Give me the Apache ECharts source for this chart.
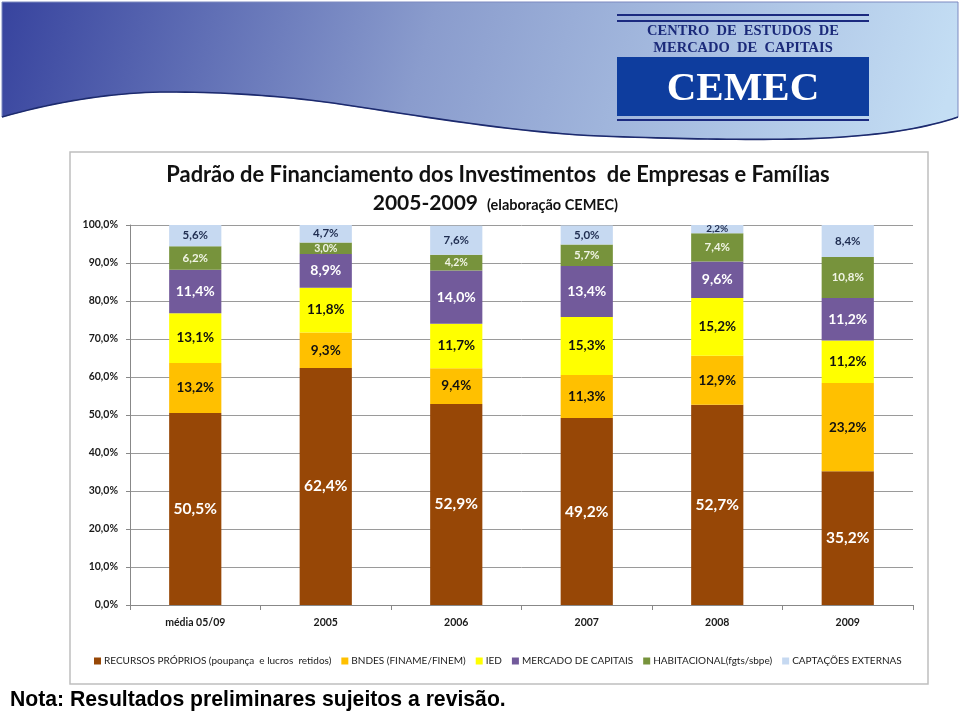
<!DOCTYPE html>
<html>
<head>
<meta charset="utf-8">
<script src="https://cdn.jsdelivr.net/npm/echarts@6/dist/echarts.min.js"></script>
<style>html,body{margin:0;padding:0;background:#fff}#c{width:960px;height:715px}</style>
</head>
<body>
<div id="c"></div>
<script>
const categories = ['média 05/09', '2005', '2006', '2007', '2008', '2009'];
const recursosProprios = [50.5, 62.4, 52.9, 49.2, 52.7, 35.2];
const bndes = [13.2, 9.3, 9.4, 11.3, 12.9, 23.2];
const ied = [13.1, 11.8, 11.7, 15.3, 15.2, 11.2];
const mercadoCapitais = [11.4, 8.9, 14.0, 13.4, 9.6, 11.2];
const habitacional = [6.2, 3.0, 4.2, 5.7, 7.4, 10.8];
const captacoesExternas = [5.6, 4.7, 7.6, 5.0, 2.2, 8.4];
const seriesNames = ['RECURSOS PRÓPRIOS (poupança  e lucros  retidos)', 'BNDES (FINAME/FINEM)', 'IED', 'MERCADO DE CAPITAIS', 'HABITACIONAL(fgts/sbpe)', 'CAPTAÇÕES EXTERNAS'];
const yTicks = [0, 10, 20, 30, 40, 50, 60, 70, 80, 90, 100];

const FONT = 'Lato';
const fmt = v => v.toFixed(1).replace('.', ',') + '%';

// decorative header swoosh (cubic bezier segments sampled to points)
function bezierPts(segs) {
  const pts = [];
  segs.forEach(s => {
    for (let i = 0; i <= 20; i++) {
      const t = i / 20, u = 1 - t;
      pts.push([
        u*u*u*s[0][0] + 3*u*u*t*s[1][0] + 3*u*t*t*s[2][0] + t*t*t*s[3][0],
        u*u*u*s[0][1] + 3*u*u*t*s[1][1] + 3*u*t*t*s[2][1] + t*t*t*s[3][1]
      ]);
    }
  });
  return pts;
}
const curve = bezierPts([
  [[2,117],[60,100],[120,92],[167,92]],
  [[167,92],[230,92],[280,96],[333,103]],
  [[333,103],[420,116],[520,133],[600,136]],
  [[600,136],[680,139],[740,140],[800,139]],
  [[800,139],[870,137],[920,130],[958,117]]
]);
const headerPoly = curve.concat([[958,2],[2,2]]);

function mkSeries(name, data, color, labelColor, fontSize, smallSize) {
  return {
    name: name, type: 'bar', stack: 'total', barWidth: '40%',
    itemStyle: { color: color },
    label: {
      show: true, position: 'inside', color: labelColor, fontFamily: FONT,
      fontWeight: 'bold', fontSize: fontSize,
      formatter: p => fmt(p.value)
    },
    data: data.map(v => (smallSize && v < 4.5) ? { value: v, label: { fontSize: smallSize } } : v)
  };
}

const chart = echarts.init(document.getElementById('c'));
chart.setOption({
  animation: false,
  backgroundColor: '#fff',
  graphic: [
    { type: 'polygon', z: 1, shape: { points: headerPoly },
      style: { fill: { type: 'linear', x: 0, y: 0, x2: 900, y2: 260, global: true, colorStops: [
        { offset: 0, color: '#37439E' }, { offset: 0.45, color: '#8A9CCD' }, { offset: 1, color: '#C4DEF4' }] },
        stroke: '#7D89C0', lineWidth: 1 } },
    { type: 'polyline', z: 2, shape: { points: curve }, style: { stroke: '#1C2A6E', lineWidth: 1.6, fill: null } },
    { type: 'rect', z: 2, shape: { x: 617, y: 14, width: 252, height: 2 }, style: { fill: '#1B2A80' } },
    { type: 'rect', z: 2, shape: { x: 617, y: 20, width: 252, height: 2 }, style: { fill: '#1B2A80' } },
    { type: 'text', z: 2, x: 743, y: 31, style: { text: 'CENTRO  DE  ESTUDOS  DE', font: 'bold 14.5px "Liberation Serif"', fill: '#1B2A7A', align: 'center', verticalAlign: 'middle' } },
    { type: 'text', z: 2, x: 743, y: 48, style: { text: 'MERCADO  DE  CAPITAIS', font: 'bold 14.5px "Liberation Serif"', fill: '#1B2A7A', align: 'center', verticalAlign: 'middle' } },
    { type: 'rect', z: 2, shape: { x: 617, y: 57, width: 252, height: 59 }, style: { fill: '#0E3D9E' } },
    { type: 'text', z: 3, x: 743, y: 89, style: { text: 'CEMEC', font: 'bold 41px "Liberation Serif"', fill: '#fff', align: 'center', verticalAlign: 'middle' } },
    { type: 'rect', z: 2, shape: { x: 617, y: 119, width: 252, height: 2 }, style: { fill: '#1B2A80' } },
    { type: 'rect', z: 0, shape: { x: 70, y: 152, width: 858, height: 532 }, style: { fill: '#fff', stroke: '#BFBFBF', lineWidth: 1.5 } },
    { type: 'text', z: 2, x: 498, y: 175, style: { text: 'Padrão de Financiamento dos Investimentos  de Empresas e Famílias', font: 'bold 21.9px ' + FONT, fill: '#111', align: 'center', verticalAlign: 'middle' } },
    { type: 'text', z: 2, x: 478, y: 203, style: { text: '2005-2009', font: 'bold 21px ' + FONT, fill: '#111', align: 'right', verticalAlign: 'middle' } },
    { type: 'text', z: 2, x: 487, y: 205, style: { text: '(elaboração CEMEC)', font: 'bold 14.5px ' + FONT, fill: '#111', align: 'left', verticalAlign: 'middle' } },
    { type: 'text', z: 2, x: 10, y: 700, style: { text: 'Nota: Resultados preliminares sujeitos a revisão.', font: 'bold 21.2px "Liberation Sans"', fill: '#000', align: 'left', verticalAlign: 'middle' } }
  ],
  grid: { left: 130, right: 47, top: 225, bottom: 110 },
  legend: {
    left: 89, top: 651, itemWidth: 7, itemHeight: 7, itemGap: 10,
    icon: 'rect',
    textStyle: { fontFamily: FONT, fontSize: 10, color: '#1a1a1a', padding: [0, 0, 0, -2] },
    data: seriesNames
  },
  xAxis: {
    type: 'category', data: categories,
    axisLine: { lineStyle: { color: '#888' } },
    axisTick: { show: true, length: 5, lineStyle: { color: '#888' } },
    axisLabel: { fontFamily: FONT, fontWeight: 'bold', fontSize: 10.5, color: '#1a1a1a', margin: 12 }
  },
  yAxis: {
    type: 'value', min: 0, max: 100, interval: 10,
    axisLine: { show: true, lineStyle: { color: '#888' } },
    axisTick: { show: true, length: 4, lineStyle: { color: '#888' } },
    splitLine: { lineStyle: { color: '#9A9A9A' } },
    axisLabel: { fontFamily: FONT, fontWeight: 'bold', fontSize: 10.5, color: '#1a1a1a', margin: 12,
      formatter: v => yTicks.indexOf(v) >= 0 ? v.toFixed(1).replace('.', ',') + '%' : '' }
  },
  series: [
    mkSeries(seriesNames[0], recursosProprios, '#974706', '#ffffff', 15.5),
    mkSeries(seriesNames[1], bndes, '#FFC000', '#111111', 13.5),
    mkSeries(seriesNames[2], ied, '#FFFF00', '#111111', 13.5),
    mkSeries(seriesNames[3], mercadoCapitais, '#725A9B', '#ffffff', 14),
    mkSeries(seriesNames[4], habitacional, '#77933C', '#F0F4E4', 11.5, 10.5),
    mkSeries(seriesNames[5], captacoesExternas, '#C6D9F1', '#1F2D50', 11.5, 10)
  ]
});
</script>
</body>
</html>
